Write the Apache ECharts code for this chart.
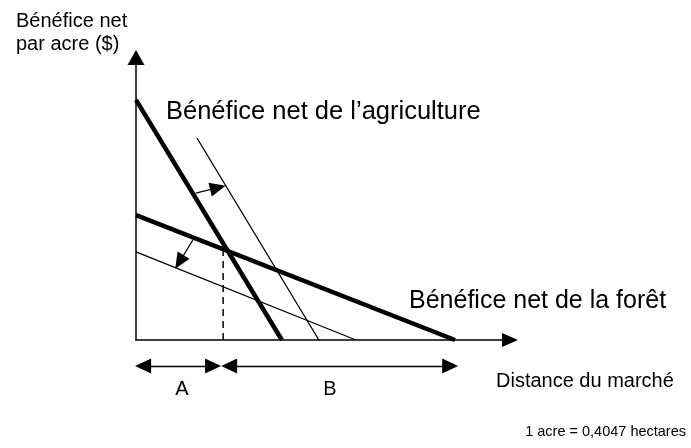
<!DOCTYPE html>
<html>
<head>
<meta charset="utf-8">
<script src="https://cdn.jsdelivr.net/npm/echarts@6/dist/echarts.min.js"></script>
<style>
	html, body { margin: 0; padding: 0; background: #fff; }
	#chart { width: 691px; height: 448px; }
</style>
</head>
<body>
<div id="chart"></div>
<script>
// données (unités arbitraires : distance 0-100, bénéfice 0-100)
var agriculture = [[0, 85], [39, 0]];
var agricultureShifted = [[16.3, 71.5], [48.9, 0]];
var forest = [[0, 44.2], [85.3, 0]];
var forestShifted = [[0, 31.2], [58.8, 0]];
var boundary = [[23.3, 0], [23.3, 32.6]];   // ligne pointillée
var agriArrow = [[16.0, 52.0], [21.9, 53.9]];
var forestArrow = [[15.2, 35.4], [11.6, 27.6]];
var zoneA = [1.9, 20.6];
var zoneB = [24.9, 84.0];

var font = '"Liberation Sans", Arial, sans-serif';
var black = '#000';

var chart = echarts.init(document.getElementById('chart'));

function txt(x, y, text, size, align) {
	return {
		type: 'text',
		x: x,
		y: y,
		style: {
			text: text,
			font: size + 'px ' + font,
			fill: black,
			align: align || 'left',
			verticalAlign: 'middle'
		}
	};
}

function arrowLine(pts, sym) {
	return [{ coord: pts[0], symbol: sym[0] }, { coord: pts[1], symbol: sym[1] }];
}

var option = {
	animation: false,
	backgroundColor: '#fff',
	grid: [
		{ left: 136, top: 57.5, width: 374, height: 282.5 },
		{ left: 136, top: 356, width: 374, height: 20 }   // flèches A / B
	],
	xAxis: [{
		type: 'value', gridIndex: 0, min: 0, max: 100,
		axisLine: { lineStyle: { color: black, width: 1.5 }, symbol: ['none', 'triangle'], symbolSize: [14, 16] },
		axisTick: { show: false }, axisLabel: { show: false }, splitLine: { show: false }
	}, {
		type: 'value', gridIndex: 1, min: 0, max: 100, show: false
	}],
	yAxis: [{
		type: 'value', gridIndex: 0, min: 0, max: 100,
		axisLine: { show: true, lineStyle: { color: black, width: 1.5 }, symbol: ['none', 'triangle'], symbolSize: [17, 15] },
		axisTick: { show: false }, axisLabel: { show: false }, splitLine: { show: false }
	}, {
		type: 'value', gridIndex: 1, min: 0, max: 1, show: false
	}],
	series: [
		{ type: 'line', data: agriculture, showSymbol: false, lineStyle: { color: black, width: 4.5 } },
		{
			type: 'line', data: agricultureShifted, showSymbol: false, lineStyle: { color: black, width: 1.3 },
			markLine: {
				silent: true, label: { show: false },
				lineStyle: { color: black, width: 1.3, type: 'solid' },
				symbolSize: [14, 16],
				data: [arrowLine(agriArrow, ['none', 'triangle'])]
			}
		},
		{ type: 'line', data: forest, showSymbol: false, lineStyle: { color: black, width: 4.5 } },
		{
			type: 'line', data: forestShifted, showSymbol: false, lineStyle: { color: black, width: 1.3 },
			markLine: {
				silent: true, label: { show: false },
				lineStyle: { color: black, width: 1.3, type: 'solid' },
				symbolSize: [14, 16],
				data: [arrowLine(forestArrow, ['none', 'triangle'])]
			}
		},
		{ type: 'line', data: boundary, showSymbol: false, lineStyle: { color: black, width: 1.5, type: [7, 5] } },
		{
			type: 'line', xAxisIndex: 1, yAxisIndex: 1, data: [], showSymbol: false,
			markLine: {
				silent: true, label: { show: false },
				lineStyle: { color: black, width: 1.3, type: 'solid' },
				symbolSize: [15, 16],
				data: [
					arrowLine([[zoneA[0], 0.5], [zoneA[1], 0.5]], ['triangle', 'triangle']),
					arrowLine([[zoneB[0], 0.5], [zoneB[1], 0.5]], ['triangle', 'triangle'])
				]
			}
		}
	],
	graphic: [
		{
			type: 'text', x: 16, y: 10,
			style: { text: 'Bénéfice net\npar acre ($)', font: '20px ' + font, fill: black, lineHeight: 23 }
		},
		txt(166, 112, 'Bénéfice net de l’agriculture', 25.5),
		txt(409, 301, 'Bénéfice net de la forêt', 25),
		txt(496, 381, 'Distance du marché', 20),
		txt(182, 389, 'A', 20, 'center'),
		txt(330, 389, 'B', 20, 'center'),
		txt(686, 432, '1 acre = 0,4047 hectares', 14.5, 'right')
	]
};
chart.setOption(option);
</script>
</body>
</html>
